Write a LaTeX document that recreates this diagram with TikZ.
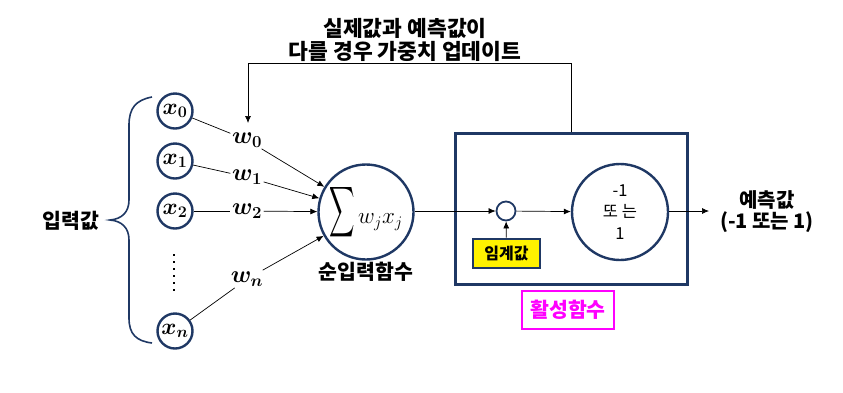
\RequirePackage{fix-cm}
\documentclass[tikz,border=0pt]{standalone}
\usepackage{amsmath}
\usepackage{graphicx}
\usepackage{fontspec}
\setmainfont{Liberation Sans}
\newfontfamily\kr{Noto Sans CJK KR}
\usetikzlibrary{arrows.meta,calc}
\definecolor{navy}{RGB}{31,56,100}
\definecolor{mag}{RGB}{255,0,255}
\begin{document}
\begin{tikzpicture}[x=1pt,y=-1pt,
  inp/.style={circle,draw=navy,line width=2.4pt,minimum size=35pt,inner sep=0pt,font=\fontsize{23}{24}\selectfont},
  wlab/.style={inner sep=1.5pt,font=\fontsize{24}{25}\selectfont},
  con/.style={line width=0.7pt},
  arr/.style={line width=0.7pt,-{Latex[length=7pt,width=6pt]}},
  krb/.style={font=\kr\bfseries\fontsize{20.5}{23}\selectfont,align=center}]
\useasboundingbox (0,0) rectangle (843,392);
% input nodes
\node[inp] (x0) at (175,111) {$\boldsymbol{x_0}$};
\node[inp] (x1) at (175,161) {$\boldsymbol{x_1}$};
\node[inp] (x2) at (175,211) {$\boldsymbol{x_2}$};
\node[inp] (xn) at (175,331) {$\boldsymbol{x_n}$};
\draw[line width=1.6pt,dash pattern=on 2pt off 5pt] (174,254) -- (174,292);
% brace
\draw[navy,line width=1.6pt] (152,97) .. controls (136,100) and (129,108) .. (129,125)
  -- (129,200) .. controls (129,212) and (122,219) .. (110,220)
  .. controls (122,221) and (129,228) .. (129,240)
  -- (129,318) .. controls (129,334) and (136,341) .. (152,343);
\node[krb] (inlab) at (71,221) {입력값};
% weights
\node[wlab] (w0) at (247,140) {$\boldsymbol{w_0}$};
\node[wlab] (w1) at (247,177) {$\boldsymbol{w_1}$};
\node[wlab] (w2) at (247,211) {$\boldsymbol{w_2}$};
\node[wlab] (wn) at (247,279) {$\boldsymbol{w_n}$};
% sum
\node[circle,draw=navy,line width=2.4pt,minimum size=95pt,inner sep=0pt] (sum) at (366,212)
  {\fontsize{21}{24}\selectfont\raisebox{3pt}{\scalebox{0.85}[1.7]{$\displaystyle\sum$}}\,{\fontsize{23}{25}\selectfont$w_j x_j$}};
\node[krb] (sumlab) at (366,272) {순입력함수};
\foreach \i in {0,1,2,n} {
  \draw[con] (x\i) -- (w\i);
  \draw[arr] (w\i) -- (sum);
}
% activation box
\node[draw=navy,line width=2.4pt,minimum width=232pt,minimum height=151pt,inner sep=0pt] (act) at (571.5,209) {};
\node[circle,draw=navy,line width=1.8pt,minimum size=19pt,inner sep=0pt] (thr) at (506,211) {};
\node[circle,draw=navy,line width=2.4pt,minimum size=96pt,inner sep=0pt,align=center,
  font=\kr\fontsize{16.5}{21.5}\selectfont] (step) at (620,212) {-1\\또 는\\1};
\node[draw=navy,line width=2pt,fill=yellow,minimum width=67pt,minimum height=29pt,inner sep=0pt,
  font=\kr\bfseries\fontsize{16}{18}\selectfont] (thrlab) at (506.5,253) {임계값};
\node[draw=mag,line width=2pt,minimum width=92pt,minimum height=38pt,inner sep=0pt,
  text=mag,font=\kr\bfseries\fontsize{20.5}{22}\selectfont] (actlab) at (568,309.5) {활성함수};
\draw[arr] (sum.east |- thr) -- (thr);
\draw[arr] (thr) -- (step);
\draw[arr] (thrlab) -- (thr);
\coordinate (outend) at (709,211);
\draw[arr] (step.east |- outend) -- (outend);
\node[krb,font=\kr\bfseries\fontsize{20}{21}\selectfont] (outlab) at (767,212) {예측값\\(-1 또는 1)};
% feedback
\coordinate (fbtop) at (571.5,63);
\coordinate (fbend) at (248,123);
\draw[con] (act.north) -- (fbtop);
\draw[arr] (fbtop) -| (fbend);
\node[krb,font=\kr\bfseries\fontsize{21.5}{23}\selectfont] (fblab) at (405,40) {실제값과 예측값이\\다를 경우 가중치 업데이트};
\end{tikzpicture}
\end{document}
